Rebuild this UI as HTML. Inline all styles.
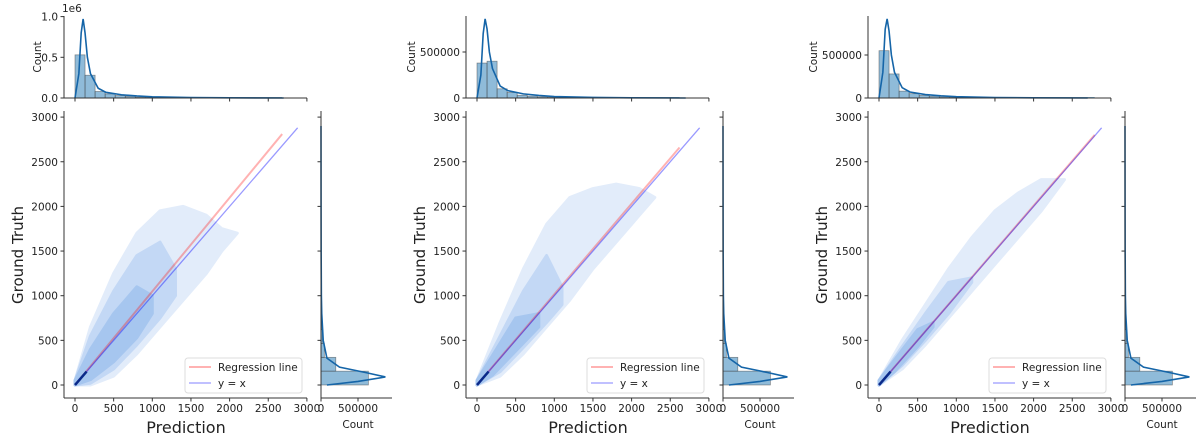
<!DOCTYPE html>
<html><head><meta charset="utf-8"><style>
body{margin:0;background:#fff}
svg{display:block;font-family:"DejaVu Sans","Liberation Sans",sans-serif}
</style></head><body>
<svg id="c" width="1200" height="446" viewBox="0 0 1200 446"></svg>
<script>
// ---- data ----
const panelOffsets=[0,402,804];
const xTicks=[0,500,1000,1500,2000,2500,3000];
const yTicks=[0,500,1000,1500,2000,2500,3000];
const sparseX=[[0,200,500,800,1100,1400,1700,1900,2100],[0,300,600,900,1200,1500,1800,2100,2300],[0,300,600,900,1200,1500,1800,2100,2400]];
const sparseLo=[[0,0,100,350,650,950,1250,1500,1700],[0,100,350,650,950,1300,1600,1900,2100],[0,180,450,750,1050,1350,1650,1950,2300]];
const sparseHi=[[50,650,1250,1700,1950,2000,1900,1750,1700],[50,700,1300,1800,2100,2200,2250,2200,2100],[50,500,900,1300,1650,1950,2150,2300,2300]];
const midX=[[0,200,500,800,1100,1300],[0,300,600,900,1100],[0,300,600,900,1200]];
const midLo=[[0,20,180,450,750,1000],[0,150,420,700,900],[0,220,500,800,1150]];
const midHi=[[50,550,1050,1450,1600,1300],[50,550,1050,1450,1100],[50,430,800,1150,1200]];
const denseX=[[0,200,500,800,1000],[0,200,500,800],[0,200,500,700]];
const denseLo=[[0,60,260,530,800],[0,110,380,650],[0,150,430,650]];
const denseHi=[[50,400,800,1100,1000],[50,330,750,800],[50,280,620,700]];
const regEnd=[[2680,2810],[2620,2660],[2790,2800]];
const identityEnd=2880;
const topBins=[[0.53,0.28,0.08,0.05,0.03,0.02,0.012,0.008,0.005,0.004,0.003,0.002],[0.38,0.40,0.10,0.06,0.03,0.02,0.012,0.008,0.005,0.004,0.003,0.002],[0.55,0.28,0.08,0.05,0.03,0.02,0.012,0.008,0.005,0.004,0.003,0.002]];
const topBinWidth=130;
const topTailEnd=[2680,2620,2790];
const kdeX=[0,50,80,105,130,160,200,300,400,600,800,1000,1500,2000,2700];
const topKde=[[0,0.3,0.8,0.97,0.8,0.5,0.3,0.12,0.07,0.04,0.025,0.015,0.005,0.002,0],[0,0.25,0.7,0.86,0.75,0.5,0.32,0.13,0.08,0.045,0.028,0.016,0.006,0.002,0],[0,0.3,0.8,0.92,0.78,0.5,0.3,0.12,0.07,0.04,0.025,0.015,0.005,0.002,0]];
const topScale=[81.4,92,86]; // px per 1e6
const topTickVals=[[0,0.5,1.0],[0,0.5],[0,0.5]];
const topTickLabels=[["0.0","0.5","1.0"],["0","500000"],["0","500000"]];
const rightBins=[0.64,0.20,0.045,0.02,0.01,0.005,0.003,0.002];
const rightBinWidth=155;
const rKdeY=[0,40,90,140,200,300,500,800,1000,1500,2000,2900];
const rKdeV=[0.08,0.5,0.87,0.6,0.25,0.08,0.03,0.01,0.005,0.002,0.001,0];
// ---- layout ----
const svg=document.getElementById('c');
const NS='http://www.w3.org/2000/svg';
function mk(tag,attrs,parent,txt){const e=document.createElementNS(NS,tag);for(const k in attrs)e.setAttribute(k,attrs[k]);if(txt!==undefined)e.textContent=txt;(parent||svg).appendChild(e);return e;}
const TXT='#222';
panelOffsets.forEach((dx,p)=>{
  const g=mk('g',{});
  
  
  const sx=v=>75+dx+v*0.0773, sy=v=>385-v*0.0893;
  const L=64+dx, B=398, R=307+dx;
  function env(xs,lo,hi,fill,name){
    let pts=xs.map((x,i)=>sx(x)+','+sy(hi[i]));
    for(let i=xs.length-1;i>=0;i--)pts.push(sx(xs[i])+','+sy(lo[i]));
    const e=mk('polygon',{points:pts.join(' '),fill:fill,stroke:fill,'stroke-width':3,'stroke-linejoin':'round'},g);
    
    
  }
  env(sparseX[p],sparseLo[p],sparseHi[p],'#e2ecfa','scatter-sparse-region');
  env(midX[p],midLo[p],midHi[p],'#c3d8f5','scatter-mid-region');
  env(denseX[p],denseLo[p],denseHi[p],'#a6c6ef','scatter-dense-region');
  let ln=mk('line',{x1:sx(0),y1:sy(0),x2:sx(regEnd[p][0]),y2:sy(regEnd[p][1]),stroke:'#ff0000','stroke-opacity':0.3,'stroke-width':2},g);
  
  
  ln=mk('line',{x1:sx(0),y1:sy(0),x2:sx(identityEnd),y2:sy(identityEnd),stroke:'#0000ff','stroke-opacity':0.4,'stroke-width':1.3},g);
  
  
  ln=mk('line',{x1:sx(0),y1:sy(0),x2:sx(150),y2:sy(150),stroke:'#0a2a8a','stroke-width':2.5},g);
  
  
  mk('line',{x1:L,y1:111,x2:L,y2:B,stroke:'#333','stroke-width':1},g);
  mk('line',{x1:L,y1:B,x2:R,y2:B,stroke:'#333','stroke-width':1},g);
  xTicks.forEach(t=>{mk('line',{x1:sx(t),y1:B,x2:sx(t),y2:B+3.5,stroke:'#333'},g);
    const e=mk('text',{x:sx(t),y:B+14,'font-size':10.5,'text-anchor':'middle',fill:TXT},g,String(t));
    
    mk('line',{x1:sx(t),y1:98,x2:sx(t),y2:101.5,stroke:'#333'},g);});
  yTicks.forEach(t=>{mk('line',{x1:L,y1:sy(t),x2:L-3.5,y2:sy(t),stroke:'#333'},g);
    const e=mk('text',{x:L-6,y:sy(t)+4,'font-size':10.5,'text-anchor':'end',fill:TXT},g,String(t));
    
    mk('line',{x1:321+dx,y1:sy(t),x2:317.5+dx,y2:sy(t),stroke:'#333'},g);});
  let t=mk('text',{x:186+dx,y:433,'font-size':16,'text-anchor':'middle',fill:TXT},g,'Prediction');
  
  t=mk('text',{x:0,y:0,'font-size':15,'text-anchor':'middle',fill:TXT,transform:`translate(${23+dx},255) rotate(-90)`},g,'Ground Truth');
  
  const lg=mk('g',{},g);
  
  mk('rect',{x:185+dx,y:358,width:117,height:35,rx:3,fill:'#fff','fill-opacity':0.85,stroke:'#ddd'},lg);
  mk('line',{x1:189+dx,y1:367,x2:211+dx,y2:367,stroke:'#ff0000','stroke-opacity':0.3,'stroke-width':2},lg);
  mk('line',{x1:189+dx,y1:383,x2:211+dx,y2:383,stroke:'#0000ff','stroke-opacity':0.4,'stroke-width':1.3},lg);
  t=mk('text',{x:218+dx,y:371,'font-size':10.5,fill:TXT},lg,'Regression line');
  
  t=mk('text',{x:218+dx,y:387,'font-size':10.5,fill:TXT},lg,'y = x');
  
  const ty=v=>98-v*topScale[p];
  const tg=mk('g',{},g);
  
  topBins[p].forEach((v,i)=>{const x0=sx(i*topBinWidth),x1=sx((i+1)*topBinWidth);
    const r=mk('rect',{x:x0,y:ty(v),width:x1-x0,height:98-ty(v),fill:'#1f77b4','fill-opacity':0.5,stroke:'#444','stroke-opacity':0.6,'stroke-width':0.7},tg);
    });
  mk('rect',{x:sx(topBins[p].length*topBinWidth),y:97,width:sx(topTailEnd[p])-sx(topBins[p].length*topBinWidth),height:1,fill:'#1f77b4','fill-opacity':0.6},tg);
  let kp=mk('polyline',{points:kdeX.map((x,i)=>sx(x)+','+ty(topKde[p][i])).join(' '),fill:'none',stroke:'#1565a8','stroke-width':1.6},tg);
  
  mk('line',{x1:L,y1:16,x2:L,y2:98,stroke:'#333'},g);
  mk('line',{x1:L,y1:98,x2:R,y2:98,stroke:'#333'},g);
  topTickVals[p].forEach((v,i)=>{mk('line',{x1:L,y1:ty(v),x2:L-3.5,y2:ty(v),stroke:'#333'},g);
    const e=mk('text',{x:L-6,y:ty(v)+4,'font-size':10.5,'text-anchor':'end',fill:TXT},g,topTickLabels[p][i]);
    });
  if(p===0){t=mk('text',{x:L-2,y:12,'font-size':10.5,fill:TXT},g,'1e6');}
  t=mk('text',{x:0,y:0,'font-size':10.5,'text-anchor':'middle',fill:TXT,transform:`translate(${(p===0?41:13)+dx},57) rotate(-90)`},g,'Count');
  
  const rx=v=>321+dx+v*74;
  const rg=mk('g',{},g);
  
  rightBins.forEach((v,i)=>{const y0=sy((i+1)*rightBinWidth),y1=sy(i*rightBinWidth);
    const r=mk('rect',{x:321+dx,y:y0,width:rx(v)-321-dx,height:y1-y0,fill:'#1f77b4','fill-opacity':0.5,stroke:'#444','stroke-opacity':0.6,'stroke-width':0.7},rg);
    });
  kp=mk('polyline',{points:rKdeY.map((y,i)=>rx(rKdeV[i])+','+sy(y)).join(' '),fill:'none',stroke:'#1565a8','stroke-width':1.6},rg);
  
  mk('line',{x1:321+dx,y1:111,x2:321+dx,y2:B,stroke:'#333'},g);
  mk('line',{x1:321+dx,y1:B,x2:392+dx,y2:B,stroke:'#333'},g);
  [[0,'0'],[0.5,'500000']].forEach(([v,l])=>{mk('line',{x1:rx(v),y1:B,x2:rx(v),y2:B+3.5,stroke:'#333'},g);
    const e=mk('text',{x:rx(v),y:B+14,'font-size':10.5,'text-anchor':'middle',fill:TXT},g,l);
    });
  t=mk('text',{x:358+dx,y:428,'font-size':10.5,'text-anchor':'middle',fill:TXT},g,'Count');
  
});
</script>
</body></html>
